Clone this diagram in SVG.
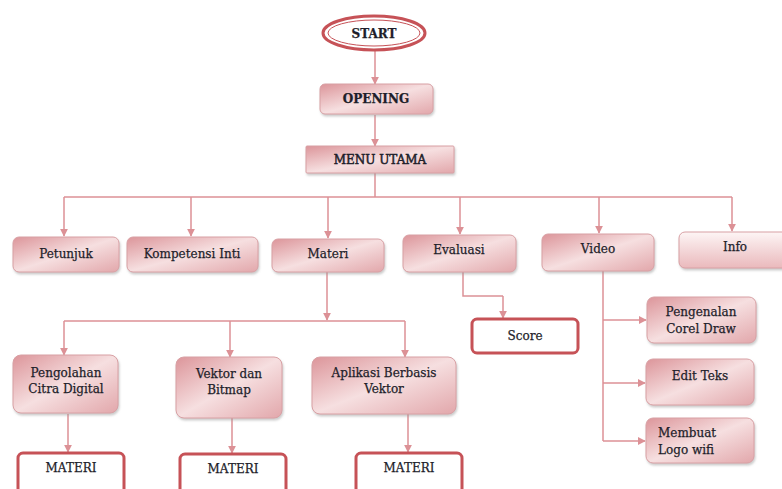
<svg xmlns="http://www.w3.org/2000/svg" width="782" height="489" viewBox="0 0 782 489">
<defs>
<linearGradient id="g" x1="0" y1="0" x2="1" y2="1">
<stop offset="0" stop-color="#dc959a"/>
<stop offset="0.5" stop-color="#f6dfe0"/>
<stop offset="1" stop-color="#e2a7ab"/>
</linearGradient>
<linearGradient id="g2" x1="0" y1="0" x2="0" y2="1">
<stop offset="0" stop-color="#fdf5f5"/>
<stop offset="1" stop-color="#eab9bc"/>
</linearGradient>
<marker id="ah" viewBox="0 0 10 10" refX="9" refY="5" markerWidth="8" markerHeight="8" markerUnits="userSpaceOnUse" orient="auto">
<path d="M0,0 L10,5 L0,10 z" fill="#dc9196"/>
</marker>
<filter id="sh" x="-10%" y="-10%" width="130%" height="140%">
<feDropShadow dx="1" dy="2" stdDeviation="1" flood-color="#999" flood-opacity="0.5"/>
</filter>
</defs>
<style>
.box{fill:url(#g);stroke:#d8a0a4;stroke-width:1;filter:url(#sh)}
.lite{fill:url(#g2);stroke:#d8a0a4;stroke-width:1;filter:url(#sh)}
.out{fill:#fff;stroke:#c65257;stroke-width:3}
.c{fill:none;stroke:#dc9196;stroke-width:1.5}
.ca{fill:none;stroke:#dc9196;stroke-width:1.5;marker-end:url(#ah)}
text{font-family:"DejaVu Serif","Liberation Serif",serif;font-size:12px;fill:#1e1e2a;stroke:#1e1e2a;stroke-width:0.25;text-anchor:middle}
.b{font-weight:bold}
</style>
<rect width="782" height="489" fill="#fff"/>
<g id="connectors">
<path class="ca" d="M375,50 V84"/>
<path class="ca" d="M375,115 V146"/>
<path class="c" d="M375,173 V197"/>
<path class="c" d="M64,197 H732"/>
<path class="ca" d="M64,197 V236"/>
<path class="ca" d="M191,197 V236"/>
<path class="ca" d="M328,197 V238"/>
<path class="ca" d="M460,197 V234"/>
<path class="ca" d="M599,197 V233"/>
<path class="ca" d="M732,197 V231"/>
<path class="ca" d="M327,272 V320"/>
<path class="c" d="M64,321 H405"/>
<path class="ca" d="M64,321 V355"/>
<path class="ca" d="M230,321 V357"/>
<path class="ca" d="M405,321 V357"/>
<path class="ca" d="M68,414 V452"/>
<path class="ca" d="M232,418 V453"/>
<path class="ca" d="M408,414 V452"/>
<path class="c" d="M463,272 V296 H503"/>
<path class="ca" d="M503,296 V318"/>
<path class="c" d="M603,271 V441"/>
<path class="ca" d="M603,320 H646"/>
<path class="ca" d="M603,383 H645"/>
<path class="ca" d="M603,441 H645"/>
</g>
<g id="start">
<ellipse cx="374" cy="33" rx="51" ry="17" fill="#fff" stroke="#c65257" stroke-width="3"/>
<ellipse cx="374" cy="33" rx="46" ry="13" fill="#fff" stroke="#c65257" stroke-width="1"/>
<text x="374" y="38" class="b">START</text>
</g>
<g id="opening">
<rect class="box" x="320" y="84" width="113" height="30" rx="5"/>
<text x="376" y="103" class="b">OPENING</text>
</g>
<g id="menu">
<rect class="box" x="306" y="146" width="148" height="27" rx="1"/>
<text x="380" y="164" style="stroke-width:0.5">MENU UTAMA</text>
</g>
<g id="petunjuk">
<rect class="box" x="13" y="237" width="106" height="35" rx="6"/>
<text x="66" y="258">Petunjuk</text>
</g>
<g id="kompetensi">
<rect class="box" x="127" y="237" width="131" height="35" rx="6"/>
<text x="192" y="258">Kompetensi Inti</text>
</g>
<g id="materi">
<rect class="box" x="272" y="239" width="112" height="33" rx="6"/>
<text x="328" y="258">Materi</text>
</g>
<g id="evaluasi">
<rect class="box" x="403" y="235" width="113" height="37" rx="6"/>
<text x="459" y="254">Evaluasi</text>
</g>
<g id="video">
<rect class="box" x="542" y="234" width="112" height="37" rx="6"/>
<text x="598" y="253">Video</text>
</g>
<g id="info">
<rect class="lite" x="679" y="232" width="112" height="36" rx="6"/>
<text x="735" y="251">Info</text>
</g>
<g id="score">
<rect class="out" x="472" y="319" width="106" height="34" rx="5"/>
<text x="525" y="340">Score</text>
</g>
<g id="pengolahan">
<rect class="box" x="13" y="355" width="105" height="58" rx="8"/>
<text x="66" y="377">Pengolahan</text>
<text x="66" y="393">Citra Digital</text>
</g>
<g id="vektor">
<rect class="box" x="176" y="357" width="106" height="61" rx="8"/>
<text x="229" y="378">Vektor dan</text>
<text x="229" y="394">Bitmap</text>
</g>
<g id="aplikasi">
<rect class="box" x="312" y="357" width="144" height="57" rx="8"/>
<text x="384" y="377">Aplikasi Berbasis</text>
<text x="384" y="393">Vektor</text>
</g>
<g id="materi1">
<rect class="out" x="18" y="453" width="106" height="42" rx="5"/>
<text x="71" y="472">MATERI</text>
</g>
<g id="materi2">
<rect class="out" x="180" y="454" width="106" height="42" rx="5"/>
<text x="233" y="473">MATERI</text>
</g>
<g id="materi3">
<rect class="out" x="356" y="453" width="106" height="42" rx="5"/>
<text x="409" y="472">MATERI</text>
</g>
<g id="pengenalan">
<rect class="box" x="647" y="297" width="109" height="46" rx="7"/>
<text x="701" y="316">Pengenalan</text>
<text x="701" y="333">Corel Draw</text>
</g>
<g id="editteks">
<rect class="box" x="646" y="359" width="108" height="46" rx="7"/>
<text x="700" y="380">Edit Teks</text>
</g>
<g id="logo">
<rect class="box" x="646" y="418" width="108" height="45" rx="7"/>
<text x="658" y="437" style="text-anchor:start">Membuat</text>
<text x="658" y="454" style="text-anchor:start">Logo wifi</text>
</g>
</svg>
